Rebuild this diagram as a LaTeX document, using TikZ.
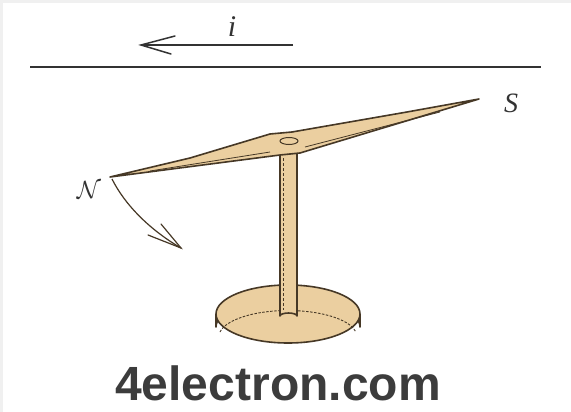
\documentclass[tikz,border=0pt]{standalone}
\usepackage{fontspec}
\newfontfamily\sitefont{Liberation Sans}
\newfontfamily\labelfont{Liberation Serif}
\usetikzlibrary{arrows.meta}
\definecolor{wood}{HTML}{EBCFA0}
\definecolor{ink}{HTML}{463826}
\definecolor{wire}{HTML}{333333}
\definecolor{sitegray}{HTML}{3C3C3C}
\begin{document}
\begin{tikzpicture}[x=1pt,y=-1pt,
  outline/.style={draw=ink,line width=1.6pt,line join=round},
  woodpart/.style={outline,fill=wood},
  thinarrow/.style={line width=1.2pt,draw=ink},
  lbl/.style={inner sep=0pt,text=wire}]
\useasboundingbox (0,0) rectangle (571,412);
% page and light frame on top and left
\fill[white] (0,0) rectangle (571,412);
\fill[black!6] (0,0) rectangle (571,3);
\fill[black!6] (0,0) rectangle (3,412);

% current-carrying wire and current direction
\coordinate (wl) at (30,67);
\coordinate (wr) at (541,67);
\draw[wire,line width=2.2pt] (wl) -- (wr);
\coordinate (ctail) at (293,45);
\coordinate (ctip) at (141,45);
\draw[wire,line width=1.5pt] (ctail) -- (ctip);
\draw[wire,line width=1.5pt,line cap=round] (175,36) -- (ctip) -- (171,54);
\node[lbl,font=\labelfont\itshape\fontsize{30}{30}\selectfont] (curr) at (232,27) {i};

% base disc
\coordinate (bc) at (288,314);
\fill[wood] (216,314) -- (216,327) arc[start angle=180,end angle=360,x radius=72,y radius=29] -- (360,314) -- cycle;
\draw[outline] (216,314) -- (216,327) arc[start angle=180,end angle=360,x radius=72,y radius=29] -- (360,314);
\draw[woodpart] (bc) ellipse[x radius=72,y radius=29];
\draw[ink,line width=0.9pt,dash pattern=on 2.5pt off 1.5pt] (220,332) arc[start angle=190,end angle=350,x radius=69,y radius=26];

% vertical post
\draw[woodpart] (280,150) -- (280,316) arc[start angle=180,end angle=360,x radius=8.5,y radius=3] -- (297,150);
\draw[ink,line width=0.8pt,dash pattern=on 3pt off 2pt] (283,158) -- (283,310);

% needle (diamond shaped magnet)
\coordinate (ntip) at (110,177);
\coordinate (stip) at (479,99);
\draw[woodpart] (ntip) -- (190,158) -- (270,134) -- (292,132) -- (407,112) -- (stip)
  -- (300,153) -- (280,155) -- cycle;
\draw[ink,line width=0.8pt] (150,171) -- (270,152);
\draw[ink,line width=0.8pt] (305,147) -- (440,112);
% pivot cap
\draw[ink,line width=1pt,fill=wood] (289,141) ellipse[x radius=9,y radius=3.5];

% pole labels
\node[lbl,font=\fontsize{26}{26}\selectfont] (npole) at (89,190) {$\mathcal{N}$};
\node[lbl,font=\labelfont\itshape\fontsize{28}{28}\selectfont] (spole) at (511,103) {S};

% deflection of the north pole
\coordinate (dstart) at (112,179);
\coordinate (dend) at (181,248);
\draw[thinarrow] (dstart) .. controls (125,205) and (150,230) .. (dend);
\draw[thinarrow,line cap=round] (148,235) -- (dend) -- (161,224);

% site name
\node[inner sep=0pt,text=sitegray,font=\sitefont\bfseries\fontsize{48}{48}\selectfont] (site) at (278,383) {4electron.com};
\end{tikzpicture}
\end{document}
